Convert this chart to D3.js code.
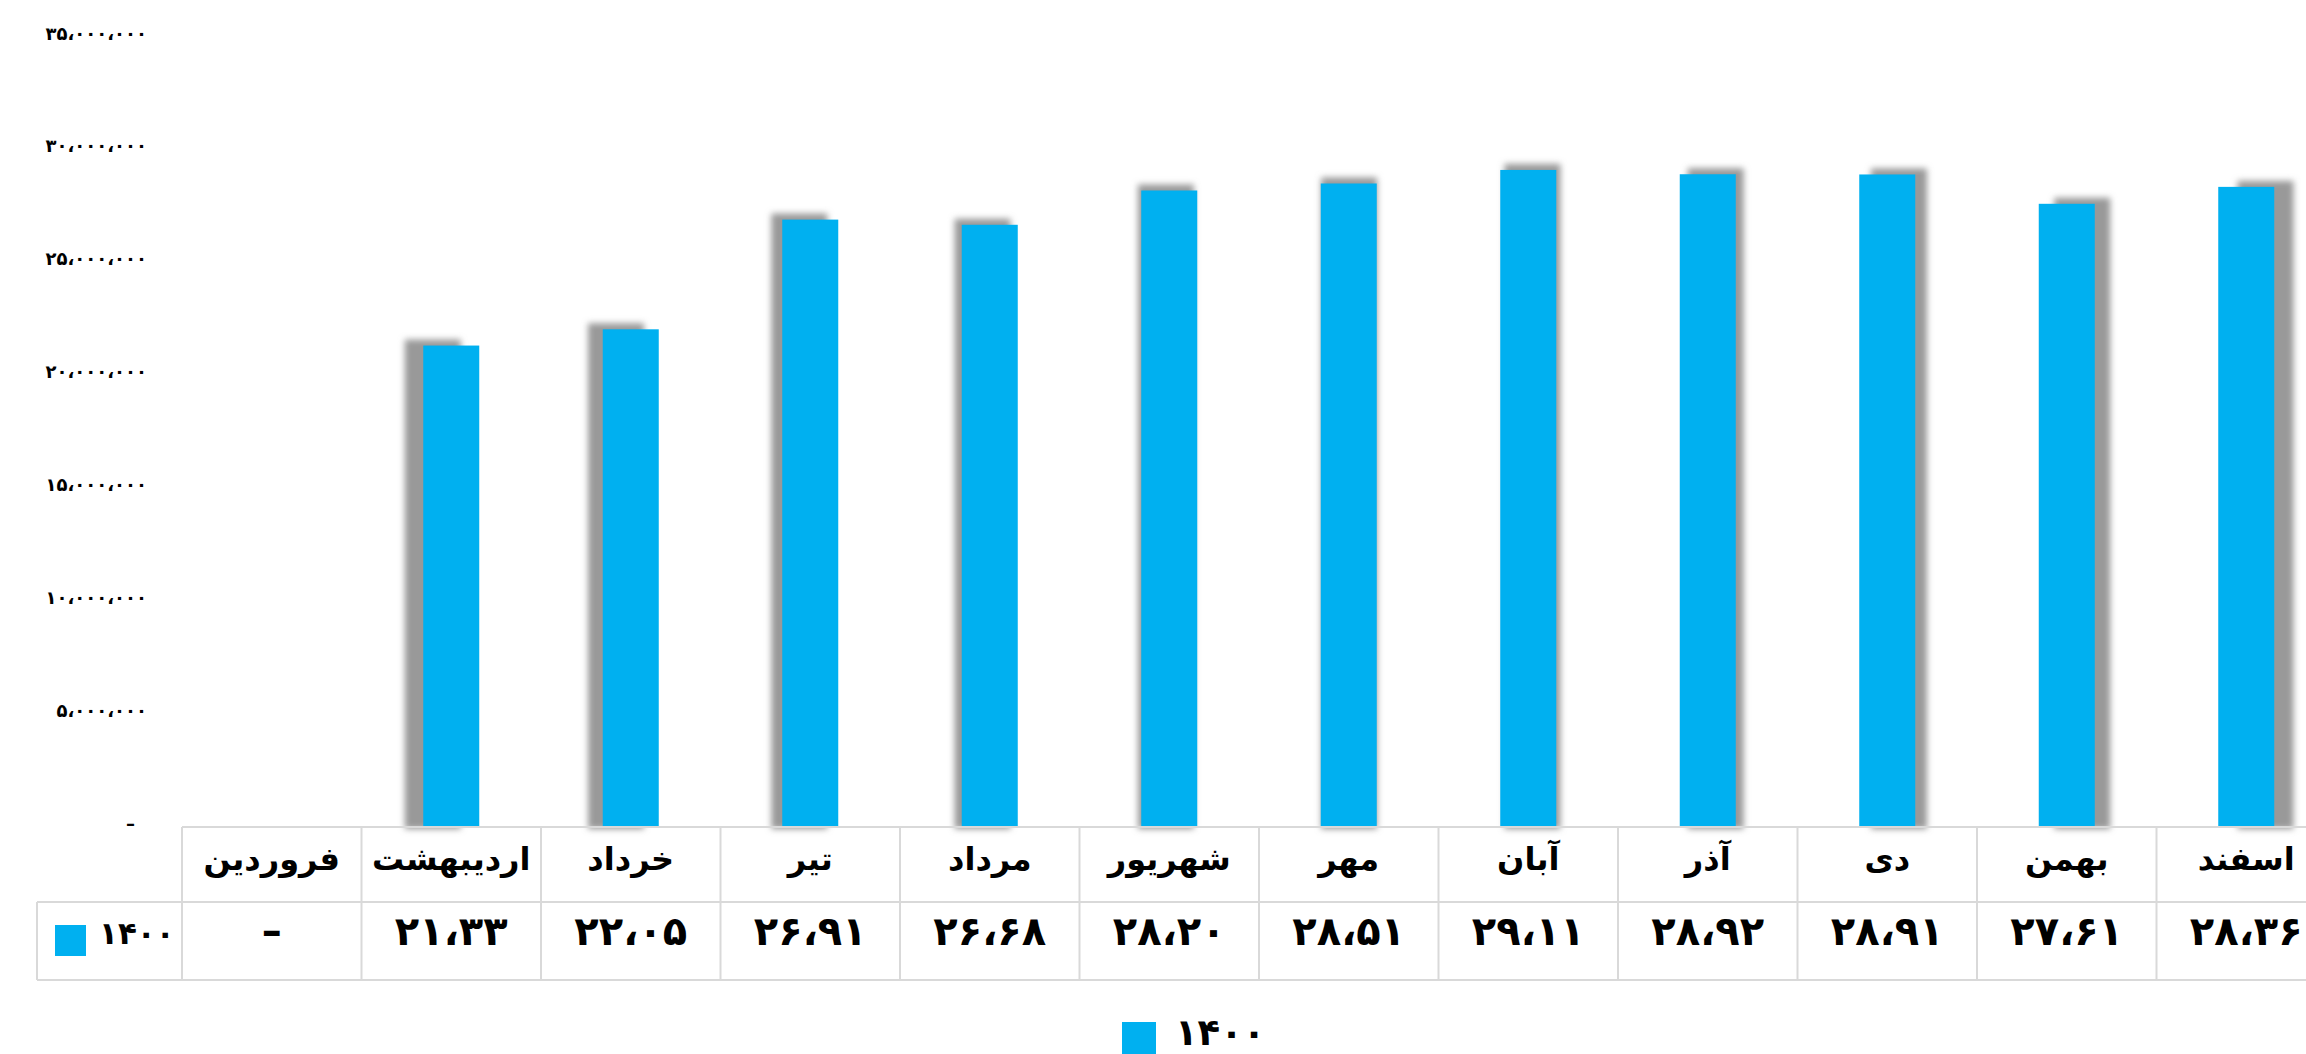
<!DOCTYPE html>
<html>
<head>
<meta charset="utf-8">
<script src="https://cdn.jsdelivr.net/npm/d3@7"></script>
<style>
  html, body { margin: 0; padding: 0; background: #fff; }
  svg { display: block; }
  text { font-family: "DejaVu Sans", sans-serif; font-weight: bold; fill: #000; }
</style>
</head>
<body>
<svg id="chart" width="2306" height="1054"></svg>
<script>
// months, left to right
var months = ["فروردین", "اردیبهشت", "خرداد", "تیر", "مرداد", "شهریور",
              "مهر", "آبان", "آذر", "دی", "بهمن", "اسفند"];
// series 1400 (millions), null = no data
var values1400 = [null, 21.33, 22.05, 26.91, 26.68, 28.20,
                  28.51, 29.11, 28.92, 28.91, 27.61, 28.36];
var seriesName = "1400";
var yTicks = [0, 5000000, 10000000, 15000000, 20000000, 25000000, 30000000, 35000000];

var svg = d3.select("#chart");
var blue = "#00B0F0",
    gridColor = "#d9d9d9";

var faDigits = "۰۱۲۳۴۵۶۷۸۹";
function toFa(s) {
    return String(s).replace(/[0-9]/g, function(d) { return faDigits[+d]; })
                    .replace(/[,.]/g, "،");
}

var tableLeft = 37, colStart = 182, colW = 179.5,
    baseY = 827, rowMid = 902, tableBottom = 980;

var x = d3.scaleBand()
    .domain(months)
    .range([colStart, colStart + colW * months.length])
    .paddingInner(0);

var y = d3.scaleLinear()
    .domain([0, 35000000])
    .range([baseY, 37]);

var barW = x.bandwidth() * 0.312;

// shadow filter
var defs = svg.append("defs");
defs.append("filter")
    .attr("id", "blur")
    .attr("x", "-50%").attr("y", "-10%")
    .attr("width", "200%").attr("height", "120%")
    .append("feGaussianBlur")
    .attr("stdDeviation", 3);

var bars = months.map(function(m, i) {
    return {month: m, value: values1400[i] == null ? 0 : values1400[i] * 1000000};
}).filter(function(d) { return d.value > 0; });

// perspective-ish shadow: offset grows away from the centre
function shadowDx(d) {
    var cx = x(d.month) + x.bandwidth() / 2;
    return (cx - 1330) * 0.021;
}

svg.append("g")
    .selectAll("rect")
    .data(bars)
    .enter().append("rect")
    .attr("x", function(d) { return x(d.month) + (x.bandwidth() - barW) / 2 + shadowDx(d); })
    .attr("y", function(d) { return y(d.value) - 6; })
    .attr("width", barW)
    .attr("height", function(d) { return baseY - y(d.value) + 8; })
    .attr("fill", "#999")
    .attr("filter", "url(#blur)");

svg.append("g")
    .selectAll("rect")
    .data(bars)
    .enter().append("rect")
    .attr("x", function(d) { return x(d.month) + (x.bandwidth() - barW) / 2; })
    .attr("y", function(d) { return y(d.value); })
    .attr("width", barW)
    .attr("height", function(d) { return baseY - y(d.value); })
    .attr("fill", blue);

// y axis labels
svg.append("g")
    .selectAll("text")
    .data(yTicks)
    .enter().append("text")
    .attr("x", function(d) { return d === 0 ? 135 : 147; })
    .attr("y", function(d) { return y(d) - 4; })
    .attr("dominant-baseline", "central")
    .attr("text-anchor", "end")
    .style("font-size", "18px")
    .text(function(d) { return d === 0 ? "–" : toFa(d3.format(",")(d)); });

// data table
var table = svg.append("g")
    .attr("stroke", gridColor)
    .attr("stroke-width", 2);

table.append("line")
    .attr("x1", colStart).attr("x2", 2306)
    .attr("y1", baseY).attr("y2", baseY);
table.append("line")
    .attr("x1", tableLeft).attr("x2", 2306)
    .attr("y1", rowMid).attr("y2", rowMid);
table.append("line")
    .attr("x1", tableLeft).attr("x2", 2306)
    .attr("y1", tableBottom).attr("y2", tableBottom);
table.append("line")
    .attr("x1", tableLeft).attr("x2", tableLeft)
    .attr("y1", rowMid).attr("y2", tableBottom);
table.selectAll(".col")
    .data(months)
    .enter().append("line")
    .attr("x1", function(d) { return x(d); })
    .attr("x2", function(d) { return x(d); })
    .attr("y1", baseY).attr("y2", tableBottom);

svg.append("g")
    .selectAll("text")
    .data(months)
    .enter().append("text")
    .attr("x", function(d) { return x(d) + x.bandwidth() / 2; })
    .attr("y", 870)
    .attr("text-anchor", "middle")
    .style("font-size", "32px")
    .text(function(d) { return d; });

svg.append("g")
    .selectAll("text")
    .data(values1400)
    .enter().append("text")
    .attr("x", function(d, i) { return x(months[i]) + x.bandwidth() / 2; })
    .attr("y", 945)
    .attr("text-anchor", "middle")
    .style("font-size", "40px")
    .text(function(d) { return d == null ? "–" : toFa(d.toFixed(2)); });

// series key in the table
svg.append("rect")
    .attr("x", 55).attr("y", 925)
    .attr("width", 31).attr("height", 31)
    .attr("fill", blue);
svg.append("text")
    .attr("x", 99).attr("y", 944)
    .style("font-size", "31px")
    .text(toFa(seriesName));

// legend
svg.append("rect")
    .attr("x", 1122).attr("y", 1022)
    .attr("width", 34).attr("height", 34)
    .attr("fill", blue);
svg.append("text")
    .attr("x", 1175).attr("y", 1045)
    .style("font-size", "37px")
    .text(toFa(seriesName));
</script>
</body>
</html>
